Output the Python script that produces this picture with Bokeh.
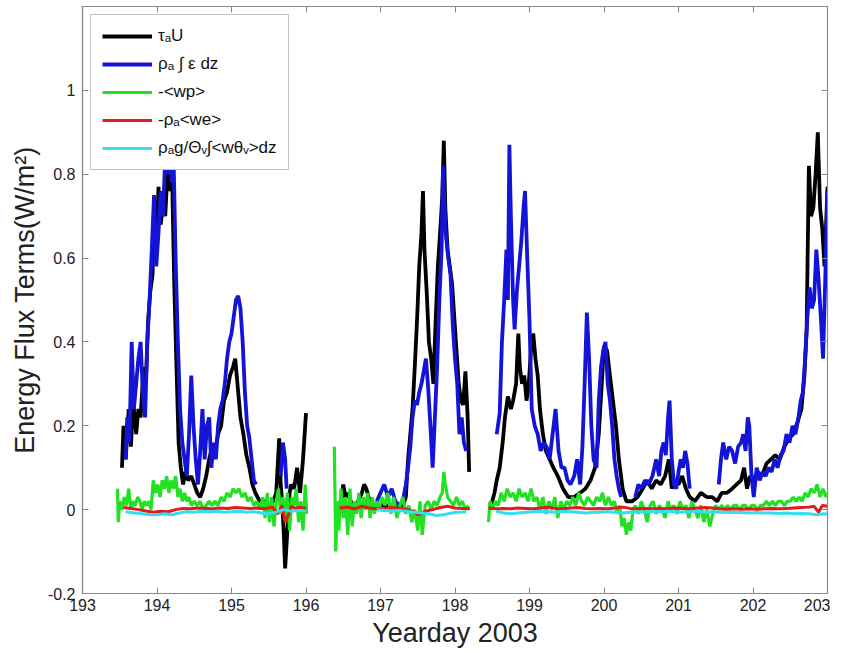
from bokeh.plotting import figure
from bokeh.models import (Range1d, FixedTicker, LinearAxis, Legend, LegendItem,
                          CustomJSTickFormatter, ColumnDataSource)
from bokeh.embed import file_html
from bokeh.resources import INLINE
import numpy as np

nan = float("nan")

# ---------------- data ----------------
x_ticks = [193, 194, 195, 196, 197, 198, 199, 200, 201, 202, 203]
y_ticks = [-0.2, 0, 0.2, 0.4, 0.6, 0.8, 1.0]

tau_x = [193.53, 193.55, 193.58, 193.62, 193.65, 193.68, 193.72, 193.75, 193.78, 193.82, 193.85, 193.88, 193.91, 193.94, 193.96, 193.99, 194.02, 194.05, 194.08, 194.11, 194.14, 194.17, 194.2, 194.23, 194.26, 194.29, 194.32, 194.35, 194.38, 194.42, 194.46, 194.5, 194.54, 194.58, 194.62, 194.66, 194.7, 194.74, 194.78, 194.82, 194.86, 194.9, 194.94, 194.98, 195.02, 195.05, 195.08, 195.12, 195.16, 195.2, 195.24, 195.28, 195.32, 195.38, 195.44, 195.5, 195.56, 195.6, 195.64, 195.66, 195.68, 195.7, 195.72, 195.74, 195.76, 195.78, 195.8, 195.84, 195.88, 195.92, 195.96, 196.0,
         196.2,
         196.45, 196.48, 196.5, 196.53, 196.56, 196.6, 196.65, 196.7, 196.75, 196.78, 196.81, 196.84, 196.88, 196.95, 197.0, 197.1, 197.2, 197.3, 197.34, 197.37, 197.4, 197.43, 197.46, 197.49, 197.52, 197.55, 197.57, 197.59, 197.62, 197.65, 197.68, 197.71, 197.74, 197.77, 197.8, 197.83, 197.85, 197.87, 197.9, 197.93, 197.96, 197.99, 198.02, 198.05, 198.08, 198.11, 198.14, 198.17, 198.19,
         198.3,
         198.47, 198.5, 198.53, 198.56, 198.6, 198.64, 198.67, 198.71, 198.75, 198.78, 198.82, 198.85, 198.87, 198.9, 198.93, 198.96, 198.99, 199.02, 199.05, 199.08, 199.11, 199.14, 199.18, 199.22, 199.27, 199.32, 199.38, 199.45, 199.52, 199.6, 199.68, 199.75, 199.82, 199.88, 199.93, 199.97, 200.0, 200.04, 200.08, 200.12, 200.16, 200.2, 200.25, 200.3, 200.38, 200.45, 200.52, 200.58, 200.64, 200.7, 200.76, 200.82, 200.87, 200.91, 200.95, 201.0, 201.05, 201.1, 201.15, 201.22, 201.3, 201.38, 201.45, 201.52, 201.58, 201.65, 201.72, 201.78, 201.84, 201.88, 201.92, 201.96, 202.0, 202.06, 202.12, 202.18, 202.24, 202.3, 202.36, 202.42, 202.48, 202.54, 202.6, 202.65, 202.69, 202.72, 202.75, 202.78, 202.81, 202.84, 202.87, 202.9, 202.93, 202.96, 203.0]
tau_y = [0.10, 0.20, 0.12, 0.24, 0.15, 0.26, 0.18, 0.24, 0.22, 0.34, 0.30, 0.45, 0.52, 0.56, 0.72, 0.62, 0.77, 0.68, 0.73, 0.70, 0.80, 0.76, 0.82, 0.55, 0.35, 0.16, 0.10, 0.06, 0.09, 0.07, 0.08, 0.06, 0.04, 0.03, 0.05, 0.08, 0.12, 0.15, 0.14, 0.18, 0.20, 0.26, 0.28, 0.32, 0.34, 0.36, 0.30, 0.22, 0.18, 0.13, 0.10, 0.06, 0.04, 0.02, 0.02, 0.01, 0.02, 0.04, 0.17, 0.06, 0.02, -0.05, -0.14, -0.08, -0.02, 0.04, 0.06, 0.05, 0.10, 0.04, 0.12, 0.23,
         nan,
         0.01, 0.03, 0.06, 0.03, 0.04, 0.02, 0.01, 0.02, 0.04, 0.06, 0.05, 0.03, 0.01, 0.01, 0.01, 0.01, 0.01, 0.01, 0.03, 0.12, 0.18, 0.24, 0.34, 0.45, 0.58, 0.66, 0.76, 0.62, 0.52, 0.40, 0.36, 0.30, 0.45, 0.58, 0.66, 0.75, 0.88, 0.72, 0.62, 0.58, 0.54, 0.46, 0.38, 0.30, 0.26, 0.25, 0.33, 0.22, 0.09,
         nan,
         0.01, 0.02, 0.04, 0.07, 0.10, 0.16, 0.22, 0.27, 0.24, 0.26, 0.30, 0.42, 0.34, 0.30, 0.32, 0.26, 0.30, 0.38, 0.42, 0.36, 0.32, 0.24, 0.18, 0.14, 0.12, 0.10, 0.08, 0.05, 0.03, 0.03, 0.04, 0.05, 0.07, 0.10, 0.18, 0.30, 0.39, 0.38, 0.32, 0.26, 0.20, 0.12, 0.05, 0.02, 0.02, 0.03, 0.05, 0.07, 0.05, 0.07, 0.06, 0.08, 0.12, 0.05, 0.07, 0.06, 0.08, 0.05, 0.03, 0.02, 0.04, 0.03, 0.03, 0.02, 0.04, 0.04, 0.05, 0.06, 0.07, 0.10, 0.05, 0.08, 0.07, 0.09, 0.08, 0.11, 0.12, 0.13, 0.12, 0.15, 0.17, 0.18, 0.21, 0.24, 0.32, 0.43, 0.82, 0.70, 0.72, 0.80, 0.90, 0.72, 0.67, 0.58, 0.77]

eps_x = [193.58, 193.6, 193.63, 193.66, 193.69, 193.72, 193.75, 193.78, 193.81, 193.84, 193.87, 193.9, 193.93, 193.96, 193.99, 194.02, 194.05, 194.08, 194.11, 194.14, 194.17, 194.2, 194.22, 194.25, 194.28, 194.31, 194.34, 194.37, 194.4, 194.43, 194.46, 194.49, 194.52, 194.55, 194.58, 194.61, 194.64, 194.67, 194.7, 194.73, 194.76, 194.79, 194.82, 194.85, 194.88, 194.91, 194.94, 194.97, 195.0, 195.03, 195.06, 195.09, 195.12, 195.15, 195.18, 195.21, 195.24, 195.27, 195.3, 195.33,
         195.5,
         195.66, 195.69, 195.72, 195.74,
         196.5,
         196.95, 197.0, 197.05, 197.1, 197.15, 197.2, 197.25, 197.3, 197.34, 197.37, 197.4, 197.43, 197.46, 197.49, 197.52, 197.55, 197.58, 197.61, 197.64, 197.67, 197.7, 197.73, 197.76, 197.79, 197.82, 197.84, 197.86, 197.88, 197.91, 197.94, 197.97, 198.0, 198.03, 198.06, 198.09, 198.12, 198.15,
         198.4,
         198.56, 198.6, 198.63, 198.66, 198.69, 198.71, 198.73, 198.75, 198.78, 198.8, 198.83, 198.86, 198.89, 198.92, 198.94, 198.97, 199.0, 199.03, 199.07, 199.11, 199.15, 199.19, 199.23, 199.27, 199.31, 199.35, 199.39, 199.43, 199.47, 199.51, 199.55, 199.6, 199.64, 199.68, 199.71, 199.74, 199.77, 199.8, 199.83, 199.86, 199.9, 199.93, 199.96, 199.99, 200.02, 200.05, 200.08, 200.11, 200.14, 200.17, 200.2, 200.23,
         200.3,
         200.42, 200.46, 200.5, 200.55, 200.6, 200.65, 200.7, 200.74, 200.77, 200.8, 200.83, 200.86, 200.88, 200.91, 200.94, 200.97, 201.0, 201.03, 201.06, 201.09, 201.12, 201.15,
         201.3,
         201.54, 201.57, 201.6, 201.64, 201.68, 201.72, 201.76, 201.8, 201.84, 201.87, 201.9, 201.93, 201.95, 201.98, 202.01, 202.05, 202.09, 202.13, 202.17, 202.21, 202.25, 202.29, 202.33, 202.37, 202.41, 202.45, 202.49, 202.53, 202.57, 202.61, 202.64, 202.67, 202.7, 202.73, 202.76, 202.79, 202.82, 202.85, 202.88, 202.91, 202.94, 202.97, 203.0]
eps_y = [0.12, 0.22, 0.16, 0.40, 0.24, 0.30, 0.36, 0.40, 0.28, 0.22, 0.40, 0.50, 0.62, 0.75, 0.58, 0.66, 0.76, 0.70, 0.84, 0.80, 0.88, 0.78, 0.86, 0.60, 0.40, 0.24, 0.16, 0.12, 0.08, 0.18, 0.32, 0.20, 0.12, 0.06, 0.14, 0.24, 0.12, 0.20, 0.22, 0.10, 0.16, 0.12, 0.20, 0.24, 0.26, 0.30, 0.36, 0.40, 0.42, 0.46, 0.50, 0.51, 0.48, 0.40, 0.28, 0.20, 0.17, 0.12, 0.07, 0.06,
         nan,
         0.08, 0.16, 0.12, 0.05,
         nan,
         0.02, 0.04, 0.06, 0.03, 0.05, 0.02, 0.01, 0.02, 0.06, 0.10, 0.15, 0.22, 0.26, 0.25, 0.28, 0.30, 0.33, 0.36, 0.29, 0.20, 0.10, 0.22, 0.34, 0.50, 0.62, 0.82, 0.72, 0.65, 0.60, 0.56, 0.44, 0.36, 0.30, 0.18, 0.22, 0.16, 0.14,
         nan,
         0.18, 0.23, 0.40, 0.50, 0.62, 0.50, 0.87, 0.70, 0.50, 0.43, 0.52, 0.58, 0.64, 0.72, 0.76, 0.60, 0.45, 0.24, 0.20, 0.18, 0.14, 0.16, 0.15, 0.12, 0.18, 0.24, 0.14, 0.10, 0.10, 0.07, 0.06, 0.08, 0.12, 0.06, 0.15, 0.30, 0.47, 0.36, 0.20, 0.12, 0.10, 0.26, 0.34, 0.38, 0.40, 0.30, 0.26, 0.20, 0.12, 0.08, 0.05, 0.03,
         nan,
         0.03, 0.06, 0.05, 0.07, 0.06, 0.08, 0.12, 0.08, 0.14, 0.16, 0.13, 0.22, 0.26, 0.12, 0.06, 0.05, 0.09, 0.12, 0.10, 0.14, 0.11, 0.05,
         nan,
         0.06, 0.12, 0.16, 0.12, 0.15, 0.14, 0.11, 0.15, 0.16, 0.18, 0.14, 0.22, 0.20, 0.08, 0.03, 0.10, 0.07, 0.09, 0.08, 0.10, 0.09, 0.12, 0.10, 0.13, 0.14, 0.18, 0.16, 0.20, 0.18, 0.22, 0.26, 0.28, 0.36, 0.46, 0.53, 0.48, 0.50, 0.62, 0.55, 0.46, 0.36, 0.55, 0.76]

wp_x = [193.47, 193.48, 193.5, 193.53, 193.56, 193.59, 193.62, 193.65, 193.68, 193.71, 193.74, 193.77, 193.8, 193.83, 193.86, 193.89, 193.92, 193.95, 193.98, 194.01, 194.04, 194.07, 194.1, 194.13, 194.16, 194.19, 194.22, 194.25, 194.28, 194.31, 194.34, 194.37, 194.4, 194.43, 194.46, 194.5, 194.54, 194.58, 194.62, 194.66, 194.7, 194.74, 194.78, 194.82, 194.86, 194.9, 194.94, 194.98, 195.02, 195.06, 195.1, 195.14, 195.18, 195.22, 195.26, 195.3, 195.34, 195.38, 195.42, 195.45, 195.48, 195.51, 195.54, 195.57, 195.6, 195.63, 195.66, 195.69, 195.72, 195.75, 195.78, 195.81, 195.84, 195.87, 195.9, 195.93, 195.96, 195.99, 196.01,
        196.2,
        196.38, 196.4, 196.42, 196.44, 196.47, 196.5, 196.53, 196.56, 196.59, 196.62, 196.65, 196.68, 196.71, 196.74, 196.77, 196.8, 196.83, 196.86, 196.89, 196.92, 196.95, 196.98, 197.02, 197.06, 197.1, 197.14, 197.18, 197.22, 197.26, 197.3, 197.34, 197.38, 197.42, 197.46, 197.5, 197.53, 197.56, 197.6, 197.64, 197.68, 197.72, 197.76, 197.8, 197.83, 197.85, 197.87, 197.9, 197.94, 197.98, 198.02, 198.06, 198.1, 198.14, 198.18,
        198.3,
        198.45, 198.47, 198.5, 198.54, 198.58, 198.62, 198.66, 198.7, 198.74, 198.78, 198.82, 198.86, 198.9, 198.94, 198.98, 199.02, 199.06, 199.1, 199.14, 199.18, 199.22, 199.26, 199.3, 199.34, 199.38, 199.42, 199.46, 199.5, 199.54, 199.58, 199.62, 199.66, 199.7, 199.74, 199.78, 199.82, 199.86, 199.9, 199.94, 199.98, 200.02, 200.06, 200.1, 200.14, 200.18, 200.21, 200.24, 200.27, 200.3, 200.33, 200.36, 200.39, 200.42, 200.46, 200.5, 200.54, 200.58, 200.62, 200.66, 200.7, 200.74, 200.78, 200.82, 200.86, 200.9, 200.94, 200.98, 201.02, 201.06, 201.1, 201.14, 201.18, 201.22, 201.26, 201.3, 201.34, 201.38, 201.42, 201.46, 201.5, 201.54, 201.58, 201.62, 201.66, 201.7, 201.74, 201.78, 201.82, 201.86, 201.9, 201.94, 201.98, 202.02, 202.06, 202.1, 202.14, 202.18, 202.22, 202.26, 202.3, 202.34, 202.38, 202.42, 202.46, 202.5, 202.54, 202.58, 202.62, 202.66, 202.7, 202.74, 202.78, 202.82, 202.86, 202.9, 202.94, 202.98, 203.0]
wp_y = [0.05, -0.03, 0.02, 0.00, 0.03, 0.01, 0.05, 0.00, 0.02, 0.01, 0.03, 0.02, 0.00, 0.02, 0.01, 0.02, 0.00, 0.07, 0.04, 0.06, 0.03, 0.07, 0.05, 0.08, 0.04, 0.07, 0.05, 0.08, 0.03, 0.05, 0.02, 0.04, 0.02, 0.03, 0.01, 0.02, 0.01, 0.02, 0.00, 0.01, 0.02, 0.01, 0.02, 0.01, 0.03, 0.02, 0.04, 0.03, 0.05, 0.04, 0.05, 0.03, 0.04, 0.02, 0.03, 0.01, 0.02, 0.00, 0.03, -0.02, 0.04, -0.03, 0.03, -0.04, 0.02, 0.05, -0.01, 0.03, -0.02, 0.04, -0.05, 0.03, 0.01, 0.05, -0.03, 0.02, -0.05, 0.06, -0.01,
        nan,
        0.15, -0.10, 0.02, -0.05, 0.05, -0.02, 0.03, -0.06, 0.05, -0.04, 0.02, -0.01, 0.04, -0.02, 0.03, 0.00, 0.04, -0.02, 0.03, -0.01, 0.02, 0.00, 0.03, 0.01, 0.04, -0.01, 0.03, -0.02, 0.01, 0.03, -0.01, 0.01, -0.03, 0.00, -0.05, 0.02, -0.06, 0.01, 0.02, 0.00, 0.02, 0.01, 0.03, 0.04, 0.09, 0.06, 0.03, 0.02, 0.01, 0.03, 0.01, 0.02, 0.00, 0.01,
        nan,
        -0.03, 0.02, 0.00, 0.02, 0.01, 0.04, 0.02, 0.05, 0.03, 0.04, 0.02, 0.05, 0.03, 0.04, 0.02, 0.05, 0.02, 0.03, 0.00, 0.03, -0.01, 0.02, 0.00, 0.03, -0.02, 0.02, 0.00, 0.02, 0.01, 0.03, 0.01, 0.04, 0.02, 0.01, 0.03, 0.02, 0.01, 0.03, 0.02, 0.04, 0.01, 0.03, 0.01, 0.02, -0.01, 0.01, -0.04, -0.02, -0.06, -0.03, -0.05, 0.00, 0.01, -0.01, 0.02, 0.00, -0.03, 0.01, 0.02, -0.01, 0.01, 0.00, -0.02, 0.02, 0.00, 0.01, -0.01, 0.02, 0.00, 0.01, -0.02, 0.02, 0.00, -0.02, 0.01, -0.03, 0.00, -0.04, -0.01, 0.01, 0.00, 0.01, 0.00, 0.01, 0.00, 0.01, 0.01, 0.00, 0.01, 0.01, 0.00, 0.01, 0.01, 0.00, 0.01, 0.01, 0.02, 0.01, 0.02, 0.01, 0.02, 0.02, 0.01, 0.02, 0.02, 0.03, 0.02, 0.03, 0.02, 0.04, 0.03, 0.05, 0.04, 0.06, 0.03, 0.05, 0.03, 0.04]

we_x = [193.55, 193.65, 193.75, 193.85, 193.95, 194.05, 194.15, 194.25, 194.35, 194.45, 194.55, 194.65, 194.75, 194.85, 194.95, 195.05, 195.15, 195.25, 195.35, 195.45, 195.55, 195.62, 195.68, 195.72, 195.76, 195.8, 195.86, 195.92, 196.0,
        196.2,
        196.45, 196.55, 196.65, 196.75, 196.85, 196.95, 197.05, 197.15, 197.25, 197.35, 197.45, 197.5, 197.55, 197.6, 197.7, 197.8, 197.9, 198.0, 198.1, 198.2,
        198.3,
        198.45, 198.55, 198.65, 198.75, 198.85, 198.95, 199.05, 199.15, 199.25, 199.35, 199.45, 199.55, 199.65, 199.75, 199.85, 199.95, 200.05, 200.15, 200.25, 200.35, 200.45, 200.55, 200.65, 200.75, 200.85, 200.95, 201.05, 201.15, 201.25, 201.35, 201.45, 201.55, 201.65, 201.75, 201.85, 201.95, 202.05, 202.15, 202.25, 202.35, 202.45, 202.55, 202.65, 202.75, 202.82, 202.88, 202.93, 203.0]
we_y = [0.005, 0.003, 0.0, -0.003, -0.006, -0.004, -0.005, 0.0, 0.003, 0.002, 0.004, 0.003, 0.002, 0.004, 0.003, 0.005, 0.004, 0.003, 0.004, 0.002, 0.006, -0.01, 0.01, -0.03, -0.015, 0.008, 0.003, 0.006, 0.002,
        nan,
        0.004, 0.006, 0.002, 0.008, 0.004, 0.002, 0.003, 0.005, 0.003, 0.001, -0.005, -0.012, -0.01, -0.004, 0.0, 0.005, 0.008, 0.004, 0.003, 0.002,
        nan,
        0.004, 0.002, 0.003, 0.002, 0.004, 0.003, 0.002, 0.004, 0.006, 0.003, 0.002, 0.004, 0.005, 0.003, 0.002, 0.003, 0.002, 0.004, 0.006, 0.003, 0.002, 0.003, 0.002, 0.003, 0.002, 0.004, 0.003, 0.002, 0.004, 0.005, 0.004, 0.002, 0.001, 0.002, 0.001, 0.002, 0.001, 0.002, 0.003, 0.002, 0.003, 0.004, 0.005, 0.006, 0.008, -0.006, 0.01, 0.008]

wth_x = [193.58, 193.7, 193.8, 193.9, 194.0, 194.1, 194.2, 194.3, 194.4, 194.5, 194.6, 194.7, 194.8, 194.9, 195.0, 195.1, 195.2, 195.3, 195.4, 195.5, 195.6, 195.7, 195.8, 195.9, 196.0,
         196.5,
         196.95, 197.05, 197.15, 197.25, 197.35, 197.45, 197.55, 197.65, 197.75, 197.85, 197.95, 198.05, 198.15,
         198.4,
         198.55, 198.65, 198.75, 198.85, 198.95, 199.05, 199.15, 199.25, 199.35, 199.45, 199.55, 199.65, 199.75, 199.85, 199.95, 200.05, 200.15, 200.25, 200.35, 200.45, 200.55, 200.65, 200.75, 200.85, 200.95, 201.05, 201.15, 201.25, 201.35, 201.45, 201.55, 201.65, 201.75, 201.85, 201.95, 202.05, 202.15, 202.25, 202.35, 202.45, 202.55, 202.65, 202.75, 202.85, 202.95, 203.0]
wth_y = [-0.005, -0.008, -0.01, -0.012, -0.012, -0.01, -0.012, -0.008, -0.005, -0.006, -0.004, -0.005, -0.004, -0.006, -0.005, -0.004, -0.006, -0.005, -0.008, -0.01, -0.006, 0.0, -0.004, -0.002, -0.003,
         nan,
         0.0, -0.002, -0.004, -0.002, -0.004, -0.006, -0.008, -0.01, -0.014, -0.012, -0.008, -0.006, -0.005,
         nan,
         -0.004, -0.008, -0.01, -0.008, -0.006, -0.005, -0.004, -0.005, -0.006, -0.004, -0.005, -0.006, -0.008, -0.007, -0.006, -0.005, -0.006, -0.008, -0.006, -0.005, -0.006, -0.004, -0.005, -0.004, -0.005, -0.006, -0.005, -0.004, -0.006, -0.005, -0.006, -0.007, -0.006, -0.007, -0.008, -0.007, -0.008, -0.008, -0.009, -0.008, -0.01, -0.009, -0.01, -0.012, -0.01, -0.011]

labels = ["\u03c4\u2090U", "\u03c1\u2090 \u222b \u03b5 dz", "-<wp>", "-\u03c1\u2090<we>",
          "\u03c1\u2090g/\u0398\u1d65\u222b<w\u03b8\u1d65>dz"]
colors = ["#000000", "#1414d8", "#22e022", "#e41a1a", "#30e0f0"]

FONT = "Liberation Sans"
AX = "#8a8a8a"

p = figure(frame_width=745, frame_height=587, x_range=Range1d(193, 203), y_range=Range1d(-0.2, 1.2),
           output_backend="svg", toolbar_location=None,
           min_border_left=82, min_border_right=3, min_border_top=6, min_border_bottom=40)
p.grid.visible = False
p.outline_line_color = AX
p.outline_line_width = 1.2
p.background_fill_color = "white"
p.border_fill_color = "white"

fmt_y = CustomJSTickFormatter(code="var s = tick.toFixed(1); return s.replace(/\\.0$/, '');")

p.xaxis.ticker = FixedTicker(ticks=x_ticks)
p.yaxis.ticker = FixedTicker(ticks=y_ticks)
p.yaxis.formatter = fmt_y
for ax in (p.xaxis[0], p.yaxis[0]):
    ax.axis_line_color = AX
    ax.axis_line_width = 1.2
    ax.major_tick_line_color = AX
    ax.major_tick_in = 6
    ax.major_tick_out = 0
    ax.minor_tick_line_color = None
    ax.major_label_text_font = FONT
    ax.major_label_text_font_size = "16px"
    ax.major_label_text_color = "#222222"
    ax.axis_label_text_font = FONT
    ax.axis_label_text_font_size = "27px"
    ax.axis_label_text_font_style = "normal"
    ax.axis_label_text_color = "#222222"
p.xaxis.axis_label = "Yearday 2003"
p.yaxis.axis_label = "Energy Flux Terms(W/m\u00b2)"
p.xaxis.major_label_standoff = 5
p.xaxis.axis_label_standoff = 4
p.yaxis.major_label_standoff = 7
p.yaxis.axis_label_standoff = 5

# top and right tick marks (box), no labels
top = LinearAxis(ticker=FixedTicker(ticks=x_ticks),
                 major_label_overrides={t: "" for t in x_ticks})
right = LinearAxis(ticker=FixedTicker(ticks=y_ticks),
                   major_label_overrides={t: "" for t in y_ticks})
for ax in (top, right):
    ax.axis_line_color = AX
    ax.major_tick_line_color = AX
    ax.major_tick_in = 6
    ax.major_tick_out = 0
    ax.minor_tick_line_color = None
    ax.major_label_standoff = 0
    ax.axis_label_standoff = 0
    ax.major_label_text_font_size = "1px"
p.add_layout(top, "above")
p.add_layout(right, "right")

series = [(tau_x, tau_y), (eps_x, eps_y), (wp_x, wp_y), (we_x, we_y), (wth_x, wth_y)]
widths = [3.8, 3.8, 3.2, 3.0, 3.0]
items = []
for (xs, ys), lab, col, w in zip(series, labels, colors, widths):
    src = ColumnDataSource(dict(x=np.array(xs, dtype=float), y=np.array(ys, dtype=float)))
    r = p.line("x", "y", source=src, line_color=col, line_width=w)
    items.append(LegendItem(label=lab, renderers=[r]))

legend = Legend(items=items, location="top_left", margin=8, padding=11, spacing=8,
                glyph_width=50, glyph_height=20, label_height=20, label_standoff=6,
                label_text_font=FONT, label_text_font_size="17px", label_text_color="#111111",
                border_line_color=AX, border_line_width=1.2, background_fill_alpha=1.0)
p.add_layout(legend)

open("out.html", "w").write(file_html(p, INLINE))
